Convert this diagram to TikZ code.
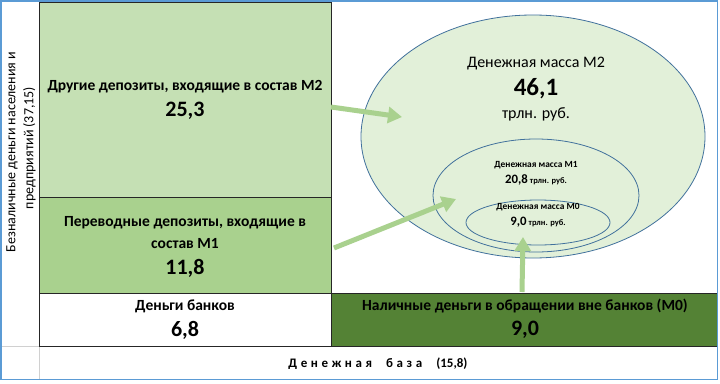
\documentclass[tikz,border=0pt]{standalone}
\usepackage{fontspec}
\setmainfont{Carlito}
\usetikzlibrary{arrows.meta,shapes.geometric}
\definecolor{lg1}{HTML}{C5E0B4}
\definecolor{lg2}{HTML}{A9D18E}
\definecolor{dg}{HTML}{548235}
\definecolor{ellfill}{HTML}{E2F0D9}
\definecolor{ellline}{HTML}{41719C}
\definecolor{frameblue}{HTML}{5B9BD5}
\definecolor{gridgray}{HTML}{D0D0D0}
\definecolor{boxline}{HTML}{262626}
\tikzset{
  cell/.style={draw=boxline, line width=0.9pt, rectangle, inner sep=0pt},
  ell/.style={draw=ellline, line width=0.8pt, fill=ellfill, ellipse, inner sep=0pt},
  fat/.style={draw=lg2, line width=5pt, -{Triangle[length=14pt,width=16pt]}},
  boxtxt/.style={inner sep=0pt, font=\bfseries\fontsize{15.5}{18}\selectfont},
  boxnum/.style={inner sep=0pt, font=\bfseries\fontsize{22}{24}\selectfont},
}
\begin{document}
\begin{tikzpicture}[x=1pt,y=-1pt]
\useasboundingbox (0,0) rectangle (720,383);
\fill[white] (0,0) rectangle (720,383);
% grid lines
\draw[gridgray, line width=0.8pt] (0,346) -- (39,346);
\draw[gridgray, line width=0.8pt] (39,346) -- (39,379);
% boxes
\node[cell, fill=lg1, minimum width=292pt, minimum height=195pt] (b1) at (185,99.5) {};
\node[cell, fill=lg2, minimum width=292pt, minimum height=96pt] (b2) at (185,245) {};
\node[cell, fill=white, minimum width=292pt, minimum height=53pt] (b3) at (185,319.5) {};
\node[cell, fill=dg, minimum width=386pt, minimum height=53pt] (b4) at (524,319.5) {};
% box texts
\node[boxtxt] (b1t) at (185,87) {Другие депозиты, входящие в состав М2};
\node[boxnum] (b1n) at (185,111) {25,3};
\node[boxtxt] (b2t) at (185,223) {Переводные депозиты, входящие в};
\node[boxtxt] (b2u) at (185,244) {состав М1};
\node[boxnum] (b2n) at (185,268) {11,8};
\node[boxtxt] (b3t) at (185,306) {Деньги банков};
\node[boxnum] (b3n) at (185,330) {6,8};
\node[boxtxt] (b4t) at (525,306) {Наличные деньги в обращении вне банков (М0)};
\node[boxnum] (b4n) at (525,330) {9,0};
% ellipses
\node[ell, minimum width=344pt, minimum height=243pt] (m2) at (533,136.5) {};
\node[ell, minimum width=206pt, minimum height=113pt] (m1) at (536,195.5) {};
\node[ell, minimum width=144pt, minimum height=45pt] (m0) at (538,222.5) {};
% ellipse texts
\node[font=\fontsize{16}{18}\selectfont] (t2a) at (536,64) {Денежная масса М2};
\node[font=\bfseries\fontsize{25}{28}\selectfont] (t2b) at (536,89) {46,1};
\node[font=\fontsize{16}{18}\selectfont] (t2c) at (536,114) {трлн. руб.};
\node[font=\bfseries\fontsize{9.4}{11}\selectfont] (t1a) at (536,165) {Денежная масса М1};
\node[font=\bfseries\fontsize{12.8}{14}\selectfont] (t1b) at (536,180) {20,8\,{\fontsize{8.5}{10}\selectfont трлн. руб.}};
\node[font=\bfseries\fontsize{9.4}{11}\selectfont] (t0a) at (538,207) {Денежная масса М0};
\node[font=\bfseries\fontsize{12.8}{14}\selectfont] (t0b) at (538,222) {9,0\,{\fontsize{8.5}{10}\selectfont трлн. руб.}};
% arrow endpoints
\coordinate (a1s) at (331,107);
\coordinate (a1e) at (402,117);
\coordinate (a2s) at (334,248);
\coordinate (a2e) at (456,199);
\coordinate (a3s) at (522,292);
\coordinate (a3e) at (523,237);
\draw[fat] (a1s) -- (a1e);
\draw[fat] (a2s) -- (a2e);
\draw[fat] (a3s) -- (a3e);
% axis labels
\node[rotate=90, inner sep=0pt, font=\fontsize{14}{16}\selectfont] (lab1) at (12,152)
  {Безналичные деньги населения и};
\node[rotate=90, inner sep=0pt, font=\fontsize{14}{16}\selectfont] (lab2) at (29.5,148)
  {предприятий (37,15)};
\node[inner sep=0pt, font=\bfseries\fontsize{13}{15}\selectfont] (base) at (378,364)
  {Д\hspace{3.6pt}е\hspace{3.6pt}н\hspace{3.6pt}е\hspace{3.6pt}ж\hspace{3.6pt}н\hspace{3.6pt}а\hspace{3.6pt}я\hspace{14pt}б\hspace{3.6pt}а\hspace{3.6pt}з\hspace{3.6pt}а\hspace{14pt}(15,8)};
% frame
\draw[frameblue, line width=1.5pt] (0.75,0.75) rectangle (717.5,379.5);
\end{tikzpicture}
\end{document}
